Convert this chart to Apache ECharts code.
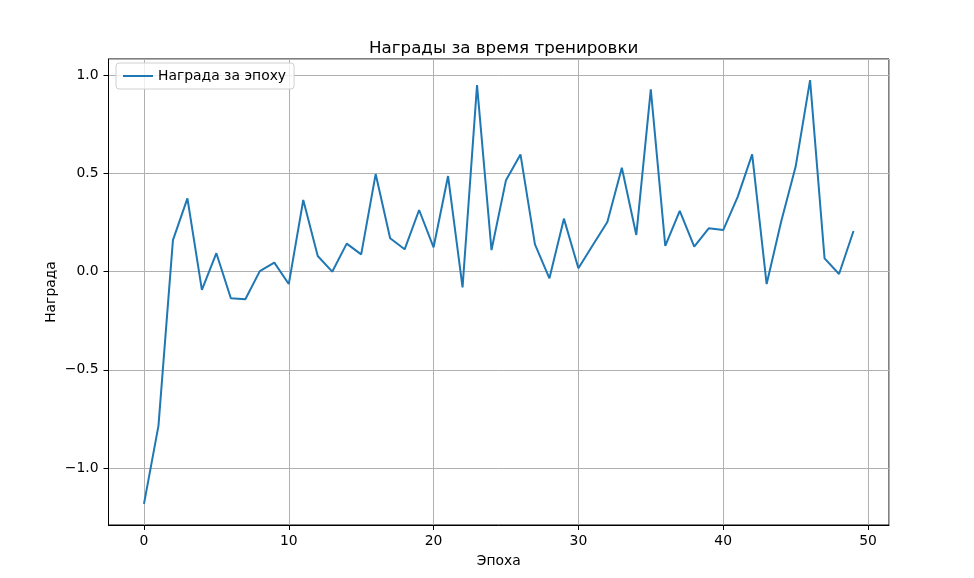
<!DOCTYPE html>
<html>
<head>
<meta charset="utf-8">
<script src="https://cdn.jsdelivr.net/npm/echarts@6/dist/echarts.min.js"></script>
<style>
html, body { margin: 0; padding: 0; background: #fff; }
#main { width: 974px; height: 578px; }
</style>
</head>
<body>
<div id="main"></div>
<script>
// epochs 0..49 and reward per epoch
var epochs = [];
for (var i = 0; i < 50; i++) epochs.push(i);
var rewards = [
	-1.182, -0.785, 0.161, 0.373, -0.093, 0.094, -0.135, -0.140, 0.003, 0.046,
	-0.063, 0.365, 0.080, 0.000, 0.143, 0.088, 0.497, 0.170, 0.114, 0.314,
	0.124, 0.487, -0.080, 0.950, 0.110, 0.466, 0.597, 0.139, -0.034, 0.270,
	0.017, 0.136, 0.253, 0.529, 0.187, 0.928, 0.131, 0.310, 0.127, 0.221,
	0.212, 0.381, 0.597, -0.063, 0.254, 0.534, 0.975, 0.068, -0.012, 0.207
];
var titleText = 'Награды за время тренировки';
var seriesName = 'Награда за эпоху';
var xName = 'Эпоха';
var yName = 'Награда';

var font = 'DejaVu Sans';
var points = epochs.map(function(e, k) { return [e, rewards[k]]; });

// matplotlib style 5% margins
var xPad = (epochs[epochs.length - 1] - epochs[0]) * 0.05;
var yMin = Math.min.apply(null, rewards), yMax = Math.max.apply(null, rewards);
var yPad = (yMax - yMin) * 0.05;

function fmtY(v) {
	var s = Math.abs(v).toFixed(1);
	return (v < -1e-9 ? '\u2212' : '') + s;
}

var myChart = echarts.init(document.getElementById('main'));
var option = {
	animation: false,
	backgroundColor: '#fff',
	title: {
		text: titleText, left: 364, top: 35,
		textStyle: { fontFamily: font, fontSize: 16.7, fontWeight: 'normal', color: '#000' }
	},
	legend: {
		data: [seriesName], left: 116, top: 63, orient: 'vertical',
		icon: 'rect', itemWidth: 30, itemHeight: 2, itemGap: 6,
		padding: [6, 8, 6, 7],
		backgroundColor: 'rgba(255,255,255,0.8)', borderColor: '#d0d0d0', borderWidth: 1, borderRadius: 3,
		textStyle: { fontFamily: font, fontSize: 13.9, color: '#000' }
	},
	grid: {
		left: 108.5, right: 85, top: 59, bottom: 53,
		show: true, borderColor: '#000', borderWidth: 1, backgroundColor: '#fff'
	},
	xAxis: {
		type: 'value', min: epochs[0] - xPad, max: epochs[epochs.length - 1] + xPad, splitNumber: 5,
		name: xName, nameLocation: 'middle', nameGap: 29, nameMoveOverlap: false,
		nameTextStyle: { fontFamily: font, fontSize: 13.9, color: '#000' },
		axisLine: { show: true, onZero: false, lineStyle: { color: '#000', width: 1 } },
		axisTick: { show: true, inside: false, length: 5, lineStyle: { color: '#000' } },
		axisLabel: { showMinLabel: false, showMaxLabel: false, margin: 9, fontFamily: font, fontSize: 13.9, color: '#000' },
		splitLine: { show: true, lineStyle: { color: '#b0b0b0', width: 1 } }
	},
	yAxis: {
		type: 'value', min: yMin - yPad, max: yMax + yPad, splitNumber: 5,
		name: yName, nameLocation: 'middle', nameGap: 50, nameRotate: 90, nameMoveOverlap: false,
		nameTextStyle: { fontFamily: font, fontSize: 13.9, color: '#000' },
		axisLine: { show: true, onZero: false, lineStyle: { color: '#000', width: 1 } },
		axisTick: { show: true, inside: false, length: 5, lineStyle: { color: '#000' } },
		axisLabel: { showMinLabel: false, showMaxLabel: false, margin: 10, fontFamily: font, fontSize: 13.9, color: '#000', formatter: fmtY },
		splitLine: { show: true, lineStyle: { color: '#b0b0b0', width: 1 } }
	},
	series: [{
		name: seriesName, type: 'line', data: points,
		showSymbol: false, symbol: 'none',
		lineStyle: { color: '#1f77b4', width: 2 },
		itemStyle: { color: '#1f77b4' }
	}]
};
myChart.setOption(option);
</script>
</body>
</html>
